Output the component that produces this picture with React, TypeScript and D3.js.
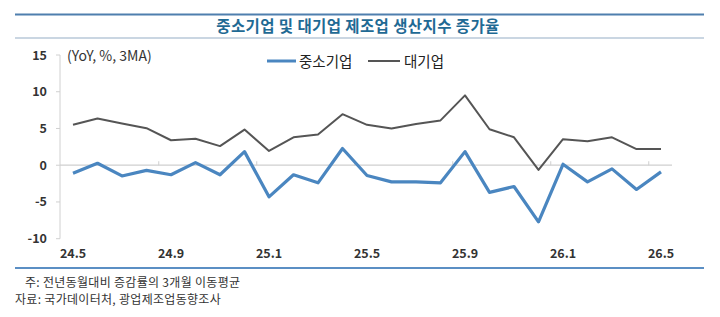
import React from "react";
import * as d3 from "d3";

const categories = [
  "24.5","24.6","24.7","24.8","24.9","24.10","24.11","24.12",
  "25.1","25.2","25.3","25.4","25.5","25.6","25.7","25.8","25.9","25.10","25.11","25.12",
  "26.1","26.2","26.3","26.4","26.5",
];
const smeValues = [
  -1.1, 0.27, -1.46, -0.7, -1.3, 0.35, -1.3, 1.85,
  -4.3, -1.3, -2.4, 2.27, -1.4, -2.27, -2.27, -2.4, 1.85, -3.7, -2.9, -7.7,
  0.13, -2.27, -0.5, -3.3, -0.9,
];
const largeValues = [
  5.5, 6.35, 5.67, 5.04, 3.4, 3.6, 2.6, 4.85,
  1.95, 3.8, 4.17, 6.95, 5.5, 5.0, 5.6, 6.1, 9.5, 4.9, 3.8, -0.64,
  3.54, 3.27, 3.8, 2.2, 2.2,
];
const yTicks = [15, 10, 5, 0, -5, -10];
const labelEvery = 4;
const seriesNames = ["중소기업", "대기업"];
const title = "중소기업 및 대기업 제조업 생산지수 증가율";
const unitLabel = "(YoY, %, 3MA)";
const notes = ["주: 전년동월대비 증감률의 3개월 이동평균", "자료: 국가데이터처, 광업제조업동향조사"];

const W = 720, H = 317;
const font = "'Malgun Gothic','Noto Sans CJK KR','Noto Sans',sans-serif";

export default function App() {
  const x = d3.scalePoint<string>().domain(categories).range([73, 661]);
  const y = d3.scaleLinear().domain([-10, 15]).range([238.7, 55]);
  const step = x.step();
  const line = d3.line<number>().x((_, i) => x(categories[i])!).y((d) => y(d));
  const axisX0 = 60;
  const axisX1 = 672;

  return (
    <svg width={W} height={H} style={{ position: "absolute", left: 0, top: 0, background: "#fff" }}>
      {/* header */}
      <line x1={15} x2={704} y1={14.5} y2={14.5} stroke="#4f7fae" strokeWidth={2} />
      <line x1={15} x2={704} y1={38} y2={38} stroke="#b9c9d8" strokeWidth={1.5} />
      <text x={358} y={32} textAnchor="middle" fontFamily={font} fontSize={15.5} fontWeight="bold" letterSpacing={0.4} fill="#1f6a94">
        {title}
      </text>

      {/* y axis */}
      <line x1={axisX0} x2={axisX0} y1={y(15)} y2={y(-10)} stroke="#d0d0d0" strokeWidth={1} />
      {yTicks.map((t) => (
        <g key={t}>
          <line x1={axisX0 - 4} x2={axisX0} y1={y(t)} y2={y(t)} stroke="#d0d0d0" />
          <text x={47} y={y(t) + 4.5} textAnchor="end" fontFamily={font} fontSize={12.5} fontWeight="bold" fill="#333">
            {t}
          </text>
        </g>
      ))}
      <text x={67} y={60.5} fontFamily={font} fontSize={14} fill="#333">{unitLabel}</text>

      {/* x axis at 0 */}
      <line x1={axisX0} x2={axisX1} y1={y(0)} y2={y(0)} stroke="#cfcfcf" strokeWidth={1.2} />
      {categories.map((c, i) =>
        i % labelEvery === labelEvery - 1 ? (
          <line key={"t" + c} x1={x(c)! + step / 2} x2={x(c)! + step / 2} y1={y(0)} y2={y(0) - 4} stroke="#cfcfcf" />
        ) : null
      )}
      {categories.map((c, i) =>
        i % labelEvery === 0 ? (
          <text key={"l" + c} x={x(c)!} y={258} textAnchor="middle" fontFamily={font} fontSize={12.5} fontWeight="bold" fill="#333">
            {c}
          </text>
        ) : null
      )}

      {/* series */}
      <path d={line(largeValues)!} fill="none" stroke="#555555" strokeWidth={2} strokeLinejoin="round" />
      <path d={line(smeValues)!} fill="none" stroke="#4a86c0" strokeWidth={3.2} strokeLinejoin="round" />

      {/* legend */}
      <line x1={267} x2={296} y1={61} y2={61} stroke="#4a86c0" strokeWidth={3} />
      <text x={299} y={66.5} fontFamily={font} fontSize={14.5} fill="#222">{seriesNames[0]}</text>
      <line x1={368} x2={400} y1={61} y2={61} stroke="#555" strokeWidth={2} />
      <text x={404} y={66.5} fontFamily={font} fontSize={14.5} fill="#222">{seriesNames[1]}</text>

      {/* footer */}
      <line x1={15} x2={704} y1={268} y2={268} stroke="#5b8fc4" strokeWidth={2} />
      <text x={25} y={287} fontFamily={font} fontSize={12} letterSpacing={0.3} fill="#333">{notes[0]}</text>
      <text x={15} y={304} fontFamily={font} fontSize={12} letterSpacing={0.3} fill="#333">{notes[1]}</text>
    </svg>
  );
}
